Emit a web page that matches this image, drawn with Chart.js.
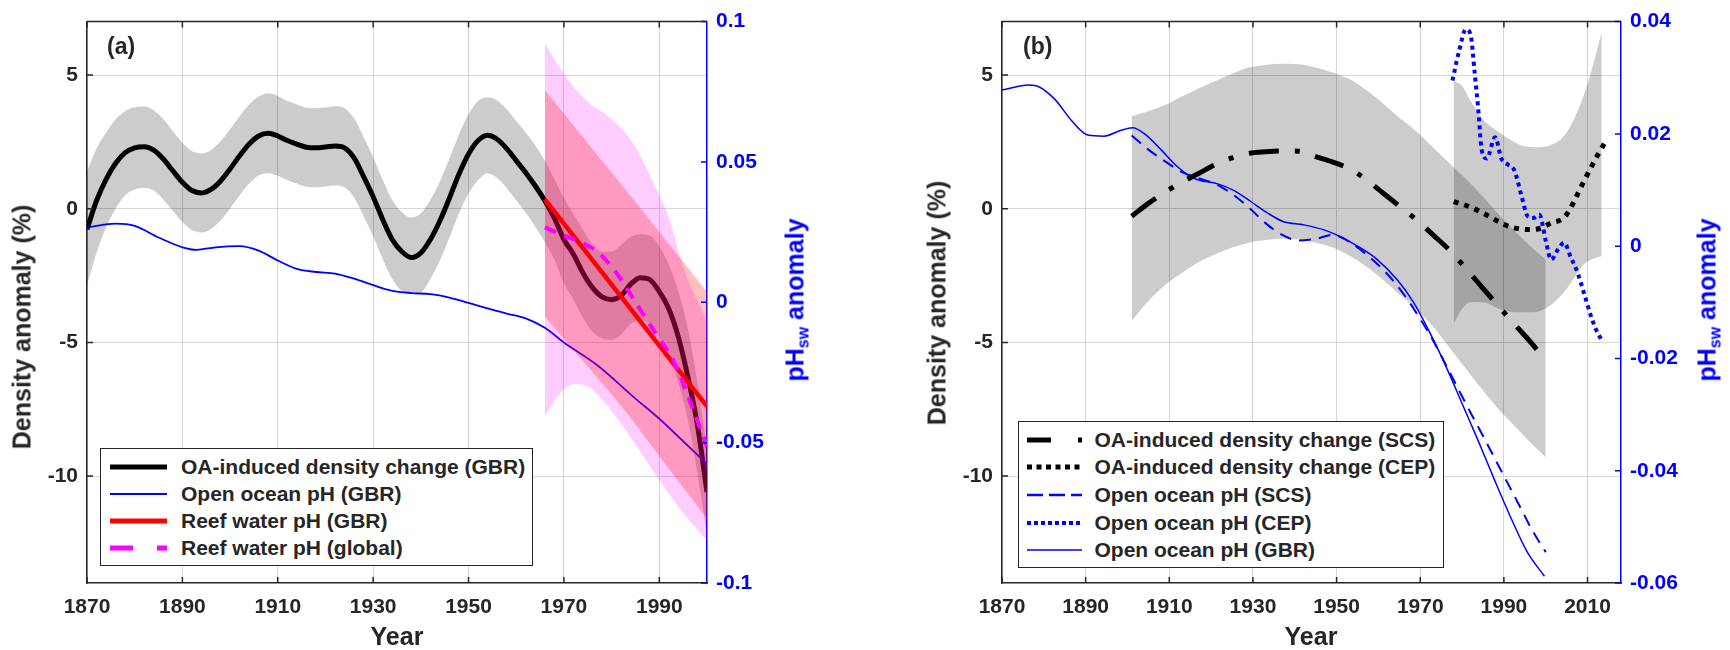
<!DOCTYPE html>
<html>
<head>
<meta charset="utf-8">
<title>OA-induced density change and seawater pH</title>
<script src="https://cdn.jsdelivr.net/npm/chart.js@4.4.1/dist/chart.umd.min.js"></script>
<style>
  body { margin: 0; background: #fff; font-family: "Liberation Sans", Arial, sans-serif; }
  #wrap { position: relative; width: 1730px; height: 650px; overflow: hidden; }
  canvas { position: absolute; top: 0; }
  .lbl { position: absolute; font-weight: bold; white-space: nowrap; color: #262626; }
  .panel { font-size: 23px; line-height: 23px; }
  .title { font-size: 25px; line-height: 25px; transform: translate(-50%, -50%); }
  .rot { transform: translate(-50%, -50%) rotate(-90deg); }
  .blue { color: #0000ff; }
  .blue sub { font-size: 16px; line-height: 0; vertical-align: -5px; }
  .legend { position: absolute; box-sizing: border-box; border: 1.5px solid #262626; background: #fff;
            font-weight: bold; font-size: 21px; color: #262626; }
  .legend .row { display: flex; align-items: center; white-space: nowrap; }
  .legend svg { flex: none; }
</style>
</head>
<body>
<div id="wrap">
  <canvas id="chartA" width="865" height="650" style="left:0"></canvas>
  <canvas id="chartB" width="865" height="650" style="left:865px"></canvas>

  <div class="lbl panel" style="left:107px; top:35px">(a)</div>
  <div class="lbl panel" style="left:1023px; top:35px">(b)</div>

  <div class="lbl title rot" style="left:22px; top:327px">Density anomaly (%)</div>
  <div class="lbl title rot" style="left:937px; top:303px">Density anomaly (%)</div>
  <div class="lbl title" style="left:397px; top:636px">Year</div>
  <div class="lbl title" style="left:1311px; top:636px">Year</div>
  <div class="lbl title rot blue" style="left:795px; top:300px">pH<sub>sw</sub> anomaly</div>
  <div class="lbl title rot blue" style="left:1707px; top:300px">pH<sub>sw</sub> anomaly</div>

  <div id="legendA" class="legend" style="left:100px; top:448px; width:433px; height:118px; padding-top:4px"></div>
  <div id="legendB" class="legend" style="left:1018px; top:421px; width:426px; height:147px; padding-top:4px"></div>
</div>

<script>
// ---- Panel (a): GBR ----
const yearsA = [1870, 1872, 1874, 1876, 1878, 1880, 1882, 1884, 1886, 1888,
                1890, 1892, 1894, 1896, 1898, 1900, 1902, 1904, 1906, 1908,
                1910, 1912, 1914, 1916, 1918, 1920, 1922, 1924, 1926, 1928,
                1930, 1932, 1934, 1936, 1938, 1940, 1942, 1944, 1946, 1948,
                1950, 1952, 1954, 1956, 1958, 1960, 1962, 1964, 1966, 1968,
                1970, 1972, 1974, 1976, 1978, 1980, 1982, 1984, 1986, 1988,
                1990, 1992, 1994, 1996, 1998, 2000];
const oaGbr = [-0.77, 0.30, 1.10, 1.70, 2.10, 2.28, 2.32, 2.19, 1.86, 1.42,
               0.99, 0.68, 0.59, 0.72, 1.04, 1.49, 1.98, 2.42, 2.72, 2.82,
               2.72, 2.55, 2.42, 2.30, 2.28, 2.31, 2.35, 2.28, 1.90, 1.20,
               0.45, -0.40, -1.15, -1.60, -1.82, -1.65, -1.15, -0.45, 0.40, 1.30,
               2.05, 2.55, 2.75, 2.60, 2.25, 1.80, 1.35, 0.85, 0.30, -0.35,
               -1.15, -1.70, -2.40, -2.95, -3.30, -3.40, -3.25, -2.82, -2.58, -2.65,
               -3.10, -3.75, -4.80, -6.30, -8.10, -10.60];
const oaGbrHi = [1.40, 2.25, 2.85, 3.35, 3.65, 3.80, 3.82, 3.68, 3.35, 2.90,
                 2.47, 2.16, 2.07, 2.20, 2.52, 2.97, 3.46, 3.90, 4.20, 4.32,
                 4.22, 4.03, 3.90, 3.78, 3.76, 3.79, 3.83, 3.76, 3.38, 2.68,
                 1.93, 1.08, 0.33, -0.12, -0.33, -0.17, 0.33, 1.03, 1.88, 2.78,
                 3.53, 4.03, 4.17, 4.05, 3.72, 3.28, 2.85, 2.37, 1.80, 1.10,
                 0.40, -0.20, -0.80, -1.35, -1.60, -1.60, -1.35, -1.05, -0.95, -1.00,
                 -1.40, -2.10, -3.10, -4.50, -6.50, -9.00];
const oaGbrLo = [-2.86, -1.65, -0.70, 0.00, 0.50, 0.72, 0.78, 0.68, 0.35, -0.08,
                 -0.50, -0.80, -0.89, -0.76, -0.44, 0.01, 0.50, 0.94, 1.24, 1.33,
                 1.23, 1.07, 0.94, 0.82, 0.80, 0.83, 0.87, 0.80, 0.42, -0.28,
                 -1.03, -1.88, -2.63, -3.08, -3.17, -3.13, -2.63, -1.93, -1.08, -0.18,
                 0.57, 1.07, 1.33, 1.15, 0.78, 0.32, -0.15, -0.67, -1.25, -1.90,
                 -2.80, -3.40, -4.10, -4.60, -4.85, -4.90, -4.70, -4.30, -4.20, -4.30,
                 -4.80, -5.45, -6.50, -7.90, -9.90, -12.20];

const phYearsA = [1870, 1876, 1880, 1885, 1890, 1893, 1897, 1902, 1906, 1910,
                  1914, 1918, 1922, 1926, 1930, 1934, 1938, 1942, 1946, 1950,
                  1954, 1958, 1962, 1966, 1970, 1977, 1985, 1990, 1995, 2000];
const phGbrA = [0.0267, 0.0280, 0.0272, 0.0231, 0.0196, 0.0187, 0.0196, 0.0200, 0.0184, 0.0149,
                0.0119, 0.0108, 0.0102, 0.0084, 0.0061, 0.0041, 0.0033, 0.0029, 0.0017, -0.0002,
                -0.0022, -0.0040, -0.0057, -0.0091, -0.0143, -0.0224, -0.0343, -0.0415, -0.0495, -0.0576];

const reefYears = [1966, 2000];
const reefGbr = [0.0367, -0.0371];
const reefBandYears = [1966, 1975, 1983, 1991, 2000];
const reefGbrHi = [0.0756, 0.0567, 0.0400, 0.0229, 0.0038];
const reefGbrLo = [-0.0051, -0.0229, -0.0391, -0.0571, -0.0771];

const globalYears = [1966, 1970, 1974, 1977, 1981, 1985, 1989, 1993, 1996, 2000];
const reefGlobal = [0.0267, 0.0238, 0.0210, 0.0181, 0.0105, 0.0000, -0.0105, -0.0210, -0.0334, -0.0514];
const globalBandYears = [1966, 1969, 1972, 1975, 1979, 1984.5, 1989.4, 1992, 1995.3, 2000];
const reefGlobalHi = [0.0924, 0.0838, 0.0769, 0.0714, 0.0667, 0.0567, 0.0403, 0.0302, 0.0112, -0.0067];
const reefGlobalLo = [-0.0405, -0.0329, -0.0292, -0.0300, -0.0367, -0.0493, -0.0619, -0.0681, -0.0757, -0.0848];

// ---- Panel (b): SCS / CEP ----
const gbrYearsB = [1870, 1876.4, 1878.8, 1882.7, 1886.6, 1890.5, 1894.4, 1898.3, 1901.2, 1904.1,
                   1908, 1911.9, 1915.8, 1921.6, 1925.5, 1929.4, 1933.3, 1937.2, 1942.1, 1947,
                   1950.9, 1954.8, 1959.6, 1964.5, 1968.4, 1972.3, 1976.2, 1980.1, 1984, 1987.9,
                   1991.8, 1995.6, 1999.7];
const phGbrB = [0.0278, 0.0287, 0.0284, 0.0261, 0.0224, 0.0198, 0.0196, 0.0206, 0.0211, 0.0200,
                0.0172, 0.0142, 0.0121, 0.0111, 0.0099, 0.0080, 0.0060, 0.0044, 0.0038, 0.0029,
                0.0017, 0.0001, -0.0023, -0.0060, -0.0100, -0.0154, -0.0215, -0.0282, -0.0349, -0.0419,
                -0.0486, -0.0545, -0.0588];

const scsYears = [1901, 1905, 1909, 1913, 1917, 1921, 1925, 1929, 1933, 1937,
                  1941, 1945, 1949, 1953, 1957, 1961, 1965, 1969, 1973, 1977,
                  1981, 1985, 1989, 1993, 1997, 2000];
const phScs = [0.0197, 0.0172, 0.0151, 0.0132, 0.0121, 0.0111, 0.0093, 0.0069, 0.0041, 0.0020,
               0.0010, 0.0013, 0.0020, 0.0008, -0.0014, -0.0041, -0.0075, -0.0118, -0.0167, -0.0224,
               -0.0282, -0.0338, -0.0395, -0.0452, -0.0509, -0.0545];
const oaScs = [-0.28, 0.20, 0.62, 1.00, 1.32, 1.65, 1.90, 2.07, 2.13, 2.16,
               2.15, 1.95, 1.75, 1.50, 1.10, 0.60, 0.10, -0.40, -0.97, -1.55,
               -2.25, -2.98, -3.70, -4.40, -5.10, -5.67];
const oaScsHi = [3.46, 3.65, 3.88, 4.20, 4.50, 4.78, 5.05, 5.28, 5.38, 5.42,
                 5.40, 5.28, 5.10, 4.85, 4.45, 3.95, 3.40, 2.90, 2.30, 1.70,
                 1.10, 0.45, -0.25, -0.90, -1.50, -1.90];
const oaScsLo = [-4.20, -3.45, -2.85, -2.40, -2.00, -1.70, -1.45, -1.27, -1.17, -1.12,
                 -1.15, -1.27, -1.45, -1.75, -2.15, -2.65, -3.20, -3.75, -4.40, -5.20,
                 -6.00, -6.80, -7.55, -8.20, -8.85, -9.30];

const cepYears = [1978, 1981, 1984.5, 1988, 1991, 1994, 1996.5, 1999, 2001.3, 2004,
                  2005.5, 2007, 2009.2, 2012.4, 2014];
const oaCep = [0.27, 0.12, -0.12, -0.42, -0.65, -0.76, -0.78, -0.72, -0.53, -0.38,
               -0.10, 0.35, 1.05, 2.00, 2.43];
const cepBandYears = [1978, 1980, 1982, 1985, 1989, 1993, 1997, 2001, 2005, 2009, 2011, 2013.4];
const oaCepHi = [4.78, 4.60, 4.05, 3.35, 2.85, 2.45, 2.30, 2.37, 2.85, 4.20, 5.20, 6.60];
const oaCepLo = [-4.30, -3.75, -3.50, -3.50, -3.75, -3.87, -3.87, -3.63, -3.00, -2.10, -1.90, -1.77];

const cepPhYears = [1977.7, 1979.3, 1980.9, 1982, 1983, 1983.8, 1984.7, 1985.9, 1987.9, 1989.4,
                    1991, 1992.5, 1994.2, 1995.7, 1997, 1998.5, 2000, 2001.3, 2003, 2004.4,
                    2006, 2007.6, 2009.2, 2010.8, 2012, 2013.2];
const phCep = [0.0295, 0.0348, 0.0386, 0.0378, 0.0310, 0.0250, 0.0171, 0.0156, 0.0194, 0.0156,
               0.0145, 0.0135, 0.0090, 0.0053, 0.0050, 0.0056, 0.0010, -0.0024, -0.0005, 0.0006,
               -0.0020, -0.0047, -0.0085, -0.0124, -0.0148, -0.0165];

// ---- Axes ----
const xTicksA = [1870, 1890, 1910, 1930, 1950, 1970, 1990];
const xTicksB = [1870, 1890, 1910, 1930, 1950, 1970, 1990, 2010];
const densityTicks = [-10, -5, 0, 5];
const phTicksA = [-0.1, -0.05, 0, 0.05, 0.1];
const phTicksB = [-0.06, -0.04, -0.02, 0, 0.02, 0.04];

const AXIS_COLOR = '#262626';
const GRID_COLOR = '#d6d6d6';
const PH_BLUE = '#0000ff';
const GRAY_BAND = 'rgba(0,0,0,0.2)';
const TICK_FONT = { family: '"Liberation Sans", Arial, sans-serif', size: 21, weight: 'bold' };

Chart.defaults.font.family = '"Liberation Sans", Arial, sans-serif';

const pts = (xs, ys) => xs.map((x, i) => ({ x, y: ys[i] }));

function line(xs, ys, axis, color, width, dash, order) {
  return {
    data: pts(xs, ys), yAxisID: axis, borderColor: color, borderWidth: width,
    borderDash: dash || [], borderCapStyle: 'butt', fill: false, order
  };
}

// lower edge is invisible, upper edge fills down to it
function band(list, xs, lo, hi, axis, color, order) {
  list.push({ data: pts(xs, lo), yAxisID: axis, borderColor: 'rgba(0,0,0,0)', borderWidth: 0, fill: false, order: order + 1 });
  list.push({ data: pts(xs, hi), yAxisID: axis, borderColor: 'rgba(0,0,0,0)', borderWidth: 0,
              backgroundColor: color, fill: '-1', order });
}

// top frame line and inward tick marks, matlab style
const frame = {
  id: 'frame',
  afterDraw(chart) {
    const { ctx, chartArea: a, scales } = chart;
    const len = 6;
    ctx.save();
    ctx.lineWidth = 1.5;
    ctx.strokeStyle = AXIS_COLOR;
    ctx.beginPath();
    ctx.moveTo(a.left, a.top);
    ctx.lineTo(a.right, a.top);
    scales.x.ticks.forEach(t => {
      const px = scales.x.getPixelForValue(t.value);
      ctx.moveTo(px, a.bottom); ctx.lineTo(px, a.bottom - len);
      ctx.moveTo(px, a.top); ctx.lineTo(px, a.top + len);
    });
    scales.y.ticks.forEach(t => {
      const py = scales.y.getPixelForValue(t.value);
      ctx.moveTo(a.left, py); ctx.lineTo(a.left + len, py);
    });
    ctx.stroke();
    ctx.strokeStyle = PH_BLUE;
    ctx.beginPath();
    scales.y2.ticks.forEach(t => {
      const py = scales.y2.getPixelForValue(t.value);
      ctx.moveTo(a.right, py); ctx.lineTo(a.right - len, py);
    });
    ctx.stroke();
    ctx.restore();
  }
};

function makePanel(id, opts) {
  return new Chart(document.getElementById(id), {
    type: 'line',
    data: { datasets: opts.datasets },
    options: {
      responsive: false,
      animation: false,
      devicePixelRatio: 1,
      layout: { padding: { top: 17, left: 0, right: 0, bottom: 0 } },
      plugins: { legend: { display: false }, tooltip: { enabled: false } },
      elements: { point: { radius: 0 }, line: { cubicInterpolationMode: 'monotone' } },
      scales: {
        x: {
          type: 'linear', min: 1870, max: opts.xMax,
          afterBuildTicks: s => { s.ticks = opts.xTicks.map(v => ({ value: v })); },
          afterFit: s => { s.height = 67; },
          grid: { color: GRID_COLOR, drawTicks: false },
          border: { color: AXIS_COLOR, width: 1.5 },
          ticks: { font: TICK_FONT, color: AXIS_COLOR, padding: 12, maxRotation: 0, autoSkip: false,
                   callback: v => String(v) }
        },
        y: {
          position: 'left', min: -14, max: 7,
          afterBuildTicks: s => { s.ticks = densityTicks.map(v => ({ value: v })); },
          afterFit: s => { s.width = opts.leftW; },
          grid: { color: GRID_COLOR, drawTicks: false },
          border: { color: AXIS_COLOR, width: 1.5 },
          ticks: { font: TICK_FONT, color: AXIS_COLOR, padding: 9, callback: v => String(v) }
        },
        y2: {
          position: 'right', min: opts.phMin, max: opts.phMax,
          afterBuildTicks: s => { s.ticks = opts.phTicks.map(v => ({ value: v })); },
          afterFit: s => { s.width = opts.rightW; },
          grid: { drawOnChartArea: false, drawTicks: false },
          border: { color: PH_BLUE, width: 1.5 },
          ticks: { font: TICK_FONT, color: PH_BLUE, padding: 9, callback: v => String(v) }
        }
      }
    },
    plugins: [frame]
  });
}

// --- Panel (a) datasets ---
const setsA = [];
band(setsA, yearsA, oaGbrLo, oaGbrHi, 'y', GRAY_BAND, 11);
setsA.push(line(yearsA, oaGbr, 'y', '#000000', 5, null, 9));
setsA.push(line(phYearsA, phGbrA, 'y2', PH_BLUE, 1.8, null, 8));
band(setsA, globalBandYears, reefGlobalLo, reefGlobalHi, 'y2', 'rgba(255,0,255,0.2)', 6);
band(setsA, reefBandYears, reefGbrLo, reefGbrHi, 'y2', 'rgba(255,0,0,0.25)', 4);
setsA.push(line(reefYears, reefGbr, 'y2', '#ff0000', 4.5, null, 2));
setsA.push(line(globalYears, reefGlobal, 'y2', '#ff00ff', 4, [12, 9], 1));

makePanel('chartA', {
  datasets: setsA, xMax: 2000, xTicks: xTicksA,
  phMin: -0.1, phMax: 0.1, phTicks: phTicksA, leftW: 87, rightW: 158
});

// --- Panel (b) datasets ---
const setsB = [];
band(setsB, scsYears, oaScsLo, oaScsHi, 'y', GRAY_BAND, 13);
band(setsB, cepBandYears, oaCepLo, oaCepHi, 'y', GRAY_BAND, 11);
setsB.push(line(gbrYearsB, phGbrB, 'y2', PH_BLUE, 1.5, null, 9));
setsB.push(line(scsYears, phScs, 'y2', PH_BLUE, 2, [12, 8], 8));
setsB.push(line(scsYears, oaScs, 'y', '#000000', 5, [30, 16, 5, 16], 7));
setsB.push(line(cepYears, oaCep, 'y', '#000000', 5, [5, 6], 6));
setsB.push(line(cepPhYears, phCep, 'y2', PH_BLUE, 4, [4, 4], 5));

makePanel('chartB', {
  datasets: setsB, xMax: 2018, xTicks: xTicksB,
  phMin: -0.06, phMax: 0.04, phTicks: phTicksB, leftW: 137, rightW: 109
});

// --- Legends ---
const legendA = [
  { label: 'OA-induced density change (GBR)', color: '#000000', width: 5, dash: '' },
  { label: 'Open ocean pH (GBR)', color: PH_BLUE, width: 2, dash: '' },
  { label: 'Reef water pH (GBR)', color: '#ff0000', width: 5, dash: '' },
  { label: 'Reef water pH (global)', color: '#ff00ff', width: 5, dash: '23 24 10' }
];
const legendB = [
  { label: 'OA-induced density change (SCS)', color: '#000000', width: 5, dash: '24 27 4' },
  { label: 'OA-induced density change (CEP)', color: '#000000', width: 5, dash: '5 4.5' },
  { label: 'Open ocean pH (SCS)', color: PH_BLUE, width: 2.5, dash: '16 6' },
  { label: 'Open ocean pH (CEP)', color: PH_BLUE, width: 4, dash: '4 3' },
  { label: 'Open ocean pH (GBR)', color: PH_BLUE, width: 1.5, dash: '' }
];

function buildLegend(id, entries, rowH, sampleLeft, sampleW, gap) {
  const box = document.getElementById(id);
  entries.forEach(e => {
    const row = document.createElement('div');
    row.className = 'row';
    row.style.height = rowH + 'px';
    row.innerHTML =
      `<svg width="${sampleW}" height="12" style="margin-left:${sampleLeft}px">` +
      `<line x1="0" y1="6" x2="${sampleW}" y2="6" stroke="${e.color}" stroke-width="${e.width}"` +
      (e.dash ? ` stroke-dasharray="${e.dash}"` : '') + `/></svg>` +
      `<span style="margin-left:${gap}px">${e.label}</span>`;
    box.appendChild(row);
  });
}

buildLegend('legendA', legendA, 27, 9, 57, 14);
buildLegend('legendB', legendB, 27.6, 7.5, 55, 13);
</script>
</body>
</html>
